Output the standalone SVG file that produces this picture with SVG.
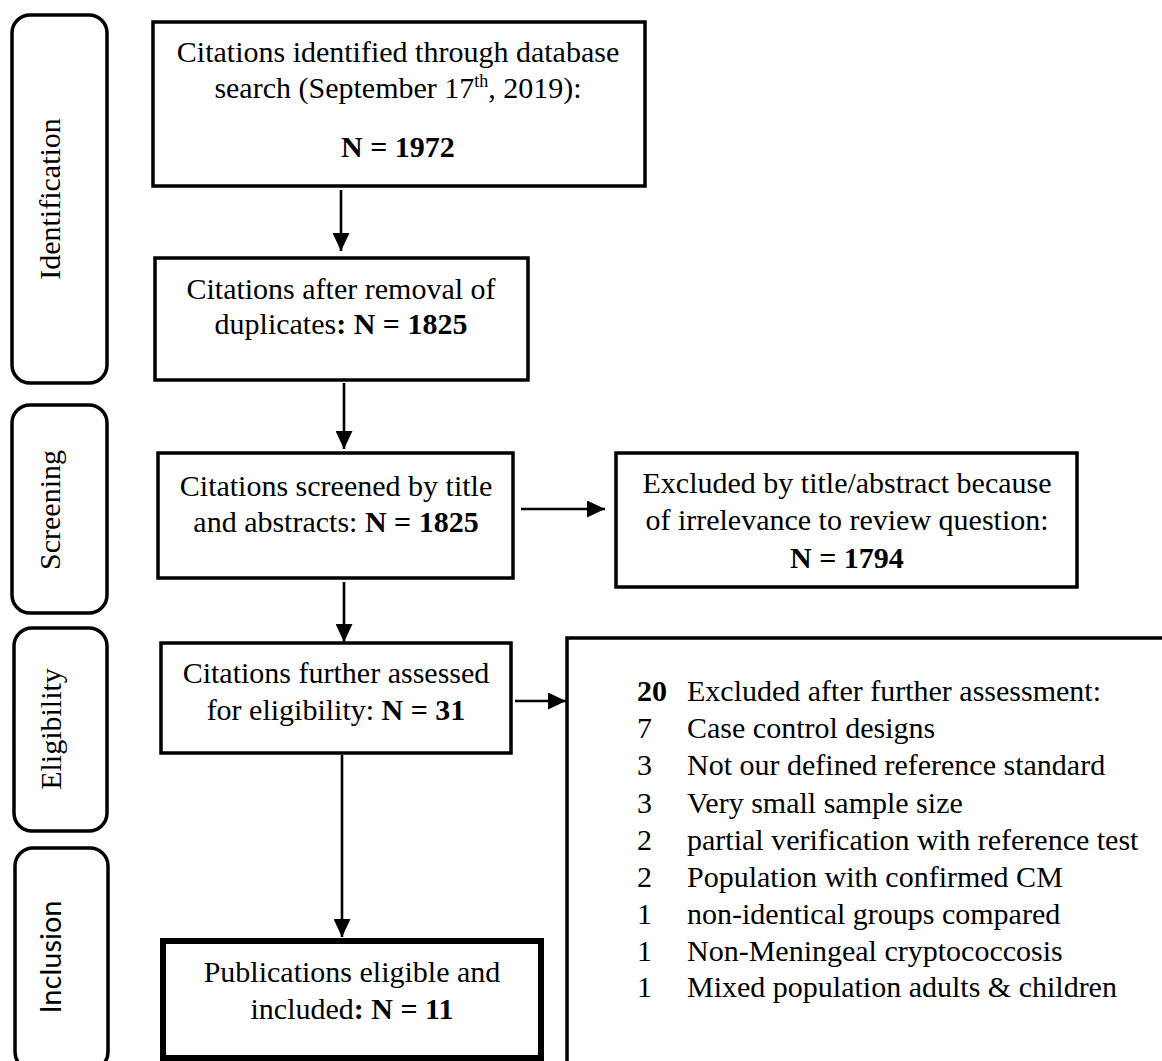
<svg xmlns="http://www.w3.org/2000/svg" width="1162" height="1061" viewBox="0 0 1162 1061">
<style>
.bg{fill:#ffffff}
.box{fill:#ffffff;stroke:#000000;stroke-width:3.5}
.thick{fill:#ffffff;stroke:#000000;stroke-width:6}
.lane{fill:#ffffff;stroke:#000000;stroke-width:3.5}
.t{font-family:"Liberation Serif","Times New Roman",serif;font-size:30px;fill:#000000}
.c{text-anchor:middle}
.b{font-weight:bold}
.lab{font-family:"Liberation Serif","Times New Roman",serif;font-size:30px;fill:#000000;text-anchor:middle}
.labs{font-family:Lato,"Liberation Sans",sans-serif;font-size:29px;fill:#000000;text-anchor:middle}
.conn{stroke:#000000;stroke-width:2.6;fill:none}
</style>
<defs>
<marker id="ah" markerUnits="userSpaceOnUse" markerWidth="18" markerHeight="17" refX="18" refY="8.5" orient="auto">
<path d="M0,0 L18,8.5 L0,17 z" fill="#000000"/>
</marker>
</defs>
<rect class="bg" x="0" y="0" width="1162" height="1061"/>

<g id="lane-identification">
<rect class="lane" x="12" y="15" width="95" height="368" rx="18" ry="18"/>
<text class="lab" transform="translate(60,199) rotate(-90)">Identification</text>
</g>
<g id="lane-screening">
<rect class="lane" x="12" y="405" width="95" height="208" rx="18" ry="18"/>
<text class="lab" transform="translate(60,510) rotate(-90)">Screening</text>
</g>
<g id="lane-eligibility">
<rect class="lane" x="14" y="628" width="93" height="203" rx="18" ry="18"/>
<text class="lab" transform="translate(61,729) rotate(-90)">Eligibility</text>
</g>
<g id="lane-inclusion">
<rect class="lane" x="15" y="848" width="93" height="222" rx="18" ry="18"/>
<text class="labs" transform="translate(61,957) rotate(-90)">Inclusion</text>
</g>

<g id="identified">
<rect class="box" x="153" y="22" width="492" height="164"/>
<text class="t c" x="398" y="62">Citations identified through database</text>
<text class="t c" x="398" y="98">search (September 17<tspan font-size="18" dy="-11">th</tspan><tspan dy="11">, 2019):</tspan></text>
<text class="t c b" x="398" y="157">N = 1972</text>
</g>

<g id="deduplicated">
<rect class="box" x="155" y="258" width="373" height="122"/>
<text class="t c" x="341" y="299">Citations after removal of</text>
<text class="t c" x="341" y="334">duplicates<tspan class="b">: N = 1825</tspan></text>
</g>

<g id="screened">
<rect class="box" x="158" y="453" width="355" height="125"/>
<text class="t c" x="336" y="496">Citations screened by title</text>
<text class="t c" x="336" y="532">and abstracts: <tspan class="b">N = 1825</tspan></text>
</g>

<g id="excluded-title">
<rect class="box" x="616" y="453" width="461" height="134"/>
<text class="t c" x="847" y="493">Excluded by title/abstract because</text>
<text class="t c" x="847" y="530">of irrelevance to review question:</text>
<text class="t c b" x="847" y="568">N = 1794</text>
</g>

<g id="assessed">
<rect class="box" x="161" y="643" width="350" height="110"/>
<text class="t c" x="336" y="683">Citations further assessed</text>
<text class="t c" x="336" y="720">for eligibility: <tspan class="b">N = 31</tspan></text>
</g>

<g id="excluded-further">
<rect class="box" x="567" y="638" width="700" height="500"/>
<text class="t b" x="637" y="701">20</text>
<text class="t" x="687" y="701">Excluded after further assessment:</text>
<text class="t" x="637" y="738">7</text>
<text class="t" x="687" y="738">Case control designs</text>
<text class="t" x="637" y="775">3</text>
<text class="t" x="687" y="775">Not our defined reference standard</text>
<text class="t" x="637" y="813">3</text>
<text class="t" x="687" y="813">Very small sample size</text>
<text class="t" x="637" y="850">2</text>
<text class="t" x="687" y="850">partial verification with reference test</text>
<text class="t" x="637" y="887">2</text>
<text class="t" x="687" y="887">Population with confirmed CM</text>
<text class="t" x="637" y="924">1</text>
<text class="t" x="687" y="924">non-identical groups compared</text>
<text class="t" x="637" y="961">1</text>
<text class="t" x="687" y="961">Non-Meningeal cryptococcosis</text>
<text class="t" x="637" y="997">1</text>
<text class="t" x="687" y="997">Mixed population adults &amp; children</text>
</g>

<g id="included">
<rect class="thick" x="163" y="941" width="378" height="117"/>
<text class="t c" x="352" y="982">Publications eligible and</text>
<text class="t c" x="352" y="1019">included<tspan class="b">: N = 11</tspan></text>
</g>

<g id="connectors">
<line class="conn" x1="341" y1="190" x2="341" y2="251" marker-end="url(#ah)"/>
<line class="conn" x1="344" y1="383" x2="344" y2="449" marker-end="url(#ah)"/>
<line class="conn" x1="521" y1="509" x2="605" y2="509" marker-end="url(#ah)"/>
<line class="conn" x1="344" y1="582" x2="344" y2="642" marker-end="url(#ah)"/>
<line class="conn" x1="515" y1="701" x2="566" y2="701" marker-end="url(#ah)"/>
<line class="conn" x1="342" y1="755" x2="342" y2="937" marker-end="url(#ah)"/>
</g>
</svg>
